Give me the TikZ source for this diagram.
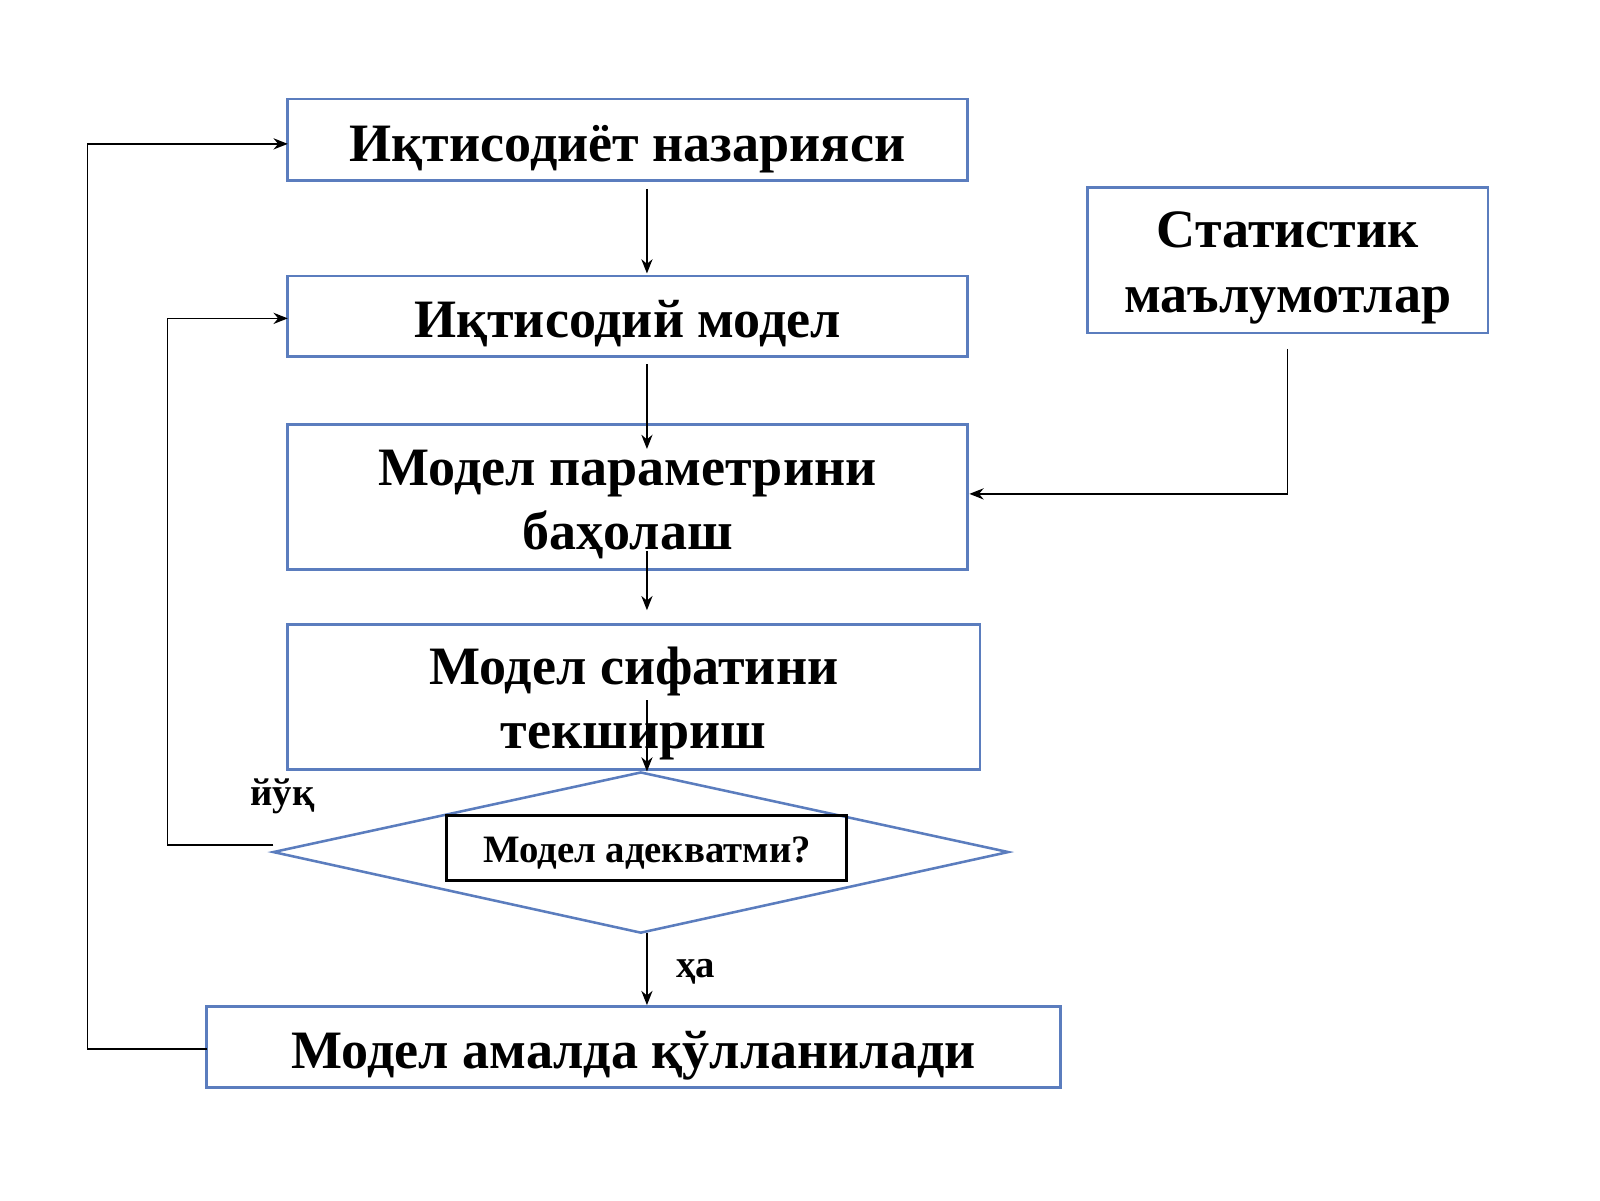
\documentclass[tikz,border=0pt]{standalone}
\usepackage{fontspec}
\setmainfont{Liberation Serif}
\usetikzlibrary{arrows.meta}
\definecolor{bbl}{HTML}{5B7DBE}
\begin{document}
\begin{tikzpicture}[x=1pt,y=-1pt,
 box/.style={draw=bbl,line width=2.5pt,inner sep=0pt,align=center,font=\fontsize{53}{63}\selectfont\bfseries},
 one/.style={text height=44pt,text depth=2pt},
 arr/.style={-{Stealth[length=14pt,width=11pt]},line width=1.3pt},
 lbl/.style={font=\fontsize{38}{42}\selectfont\bfseries}]
\useasboundingbox (0,0) rectangle (1568,1176);
\node[box,one,minimum width=666pt,minimum height=80pt] (b1) at (615,137) {Иқтисодиёт назарияси};
\node[box,one,minimum width=666pt,minimum height=79pt] (b2) at (615,310) {Иқтисодий модел};
\node[box,minimum width=666pt,minimum height=142pt] (b3) at (615,487) {\rule{0pt}{50pt}Модел параметрини\\баҳолаш};
\node[box,minimum width=679pt,minimum height=142pt] (b4) at (621,683) {\rule{0pt}{50pt}Модел сифатини\\текшириш};
\node[box,minimum width=392pt,minimum height=143pt] (st) at (1262,255) {\rule{0pt}{50pt}Статистик\\маълумотлар};
\node[box,one,minimum width=837pt,minimum height=79pt] (b5) at (621,1026) {Модел амалда қўлланилади};
\draw[bbl,line width=2.5pt] (268,835) coordinate (dl) -- (628,757) coordinate (dt) -- (988,835) coordinate (dr) -- (628,914) coordinate (db) -- cycle;
\node[draw=black,line width=3pt,minimum width=392pt,minimum height=64pt,inner sep=0pt,text height=30pt,text depth=2pt,font=\fontsize{38}{40}\selectfont\bfseries] (q) at (634,831) {Модел адекватми?};
\node[lbl] (no) at (277,780) {йўқ};
\node[lbl] (yes) at (682,952) {ҳа};
\coordinate (a1s) at (634,185); \coordinate (a1e) at (634,268);
\coordinate (a2s) at (634,357); \coordinate (a2e) at (634,440);
\coordinate (a3s) at (634,540); \coordinate (a3e) at (634,598);
\coordinate (a4s) at (634,686); \coordinate (a4e) at (634,756);
\coordinate (a5s) at (634,914); \coordinate (a5e) at (634,985);
\draw[arr] (a1s) -- (a1e);
\draw[arr] (a2s) -- (a2e);
\draw[arr] (a3s) -- (a3e);
\draw[arr] (a4s) -- (a4e);
\draw[arr] (a5s) -- (a5e);
\coordinate (ss) at (1262,342); \coordinate (se) at (950,484);
\draw[arr] (ss) |- (se);
\coordinate (l1) at (268,828); \coordinate (l2) at (164,828); \coordinate (l3) at (282,312);
\draw[arr] (l1) -- (l2) |- (l3);
\coordinate (o1) at (203,1028); \coordinate (o2) at (86,1028); \coordinate (o3) at (282,141);
\draw[arr] (o1) -- (o2) |- (o3);
\end{tikzpicture}
\end{document}
